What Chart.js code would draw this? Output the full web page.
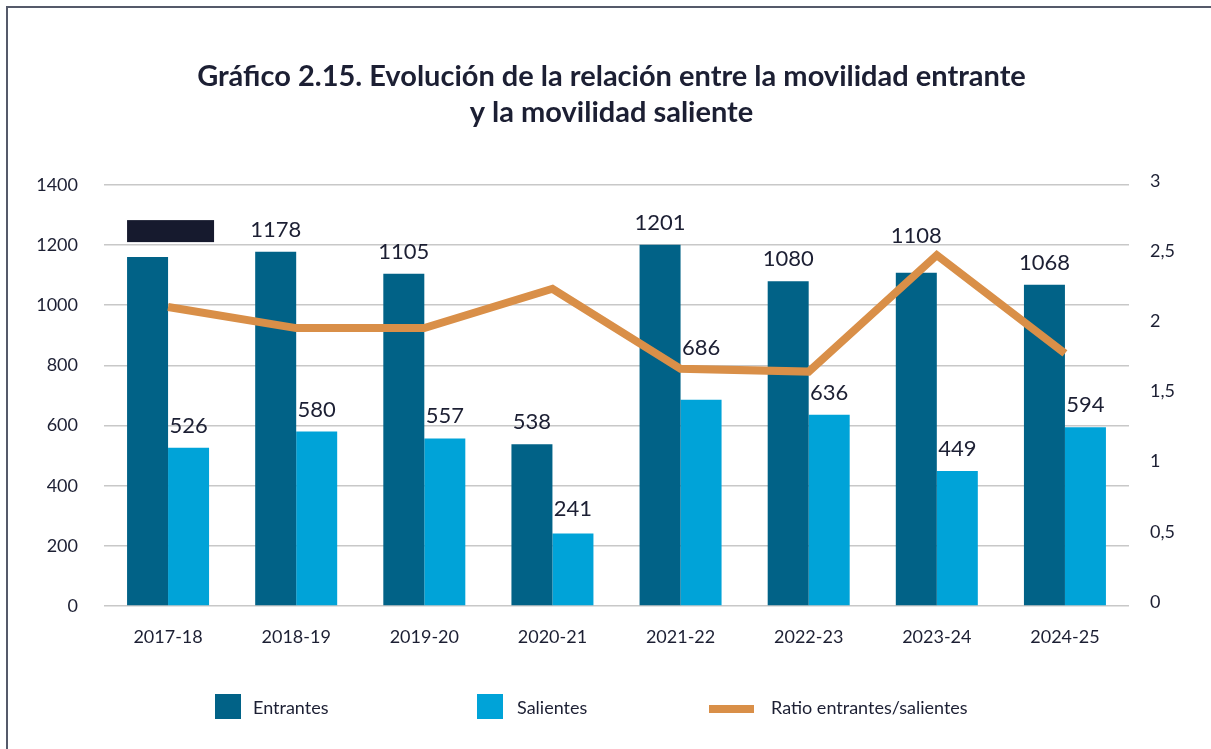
<!DOCTYPE html>
<html>
<head>
<meta charset="utf-8">
<script src="https://cdn.jsdelivr.net/npm/chart.js@4"></script>
<style>
  html, body { margin: 0; padding: 0; background: #fff; }
  #wrap { position: relative; width: 1211px; height: 749px; font-family: Lato, sans-serif; color: #1c1f33; }
  #frame { position: absolute; left: 6px; top: 6px; right: -10px; bottom: -10px; border-top: 2px solid #555a6a; border-left: 2px solid #555a6a; pointer-events: none; }
  .leg { position: absolute; top: 694px; height: 26px; line-height: 26px; font-size: 18px; white-space: nowrap; }
  .leg span.box { position: absolute; left: 0; top: 0; width: 26px; height: 25px; }
  .leg span.ln { position: absolute; left: 0; top: 11px; width: 45px; height: 8px; }
  .leg span.tx { position: absolute; top: 0; }
</style>
</head>
<body>
<div id="wrap">
  <canvas id="myChart" width="1211" height="749"></canvas>
  <div id="frame"></div>
  <div id="legend"></div>
</div>
<script>
  // Data
  var categories = ['2017-18', '2018-19', '2019-20', '2020-21', '2021-22', '2022-23', '2023-24', '2024-25'];
  var entrantes = [1160, 1178, 1105, 538, 1201, 1080, 1108, 1068];
  var salientes = [526, 580, 557, 241, 686, 636, 449, 594];
  var ratio = [2.13, 1.98, 1.98, 2.26, 1.69, 1.67, 2.50, 1.80];
  var hiddenLabels = [0]; // label of first Entrantes bar is blacked out in the original

  var textColor = '#1c1f33';

  // value labels over the bars (datasets 1 and 2 are the bars)
  var barLabels = {
    id: 'barLabels',
    afterDatasetsDraw: function(chart, args, opts) {
      var ctx = chart.ctx;
      ctx.save();
      ctx.font = '22px Lato';
      ctx.textAlign = 'center';
      ctx.textBaseline = 'alphabetic';
      [1, 2].forEach(function(di) {
        var meta = chart.getDatasetMeta(di);
        meta.data.forEach(function(bar, i) {
          var lift = (opts.lift[di + ':' + i] || 0);
          var y = bar.y - 15 - lift;
          if (di === 1 && hiddenLabels.indexOf(i) >= 0) {
            // redaction box sits over the category centre
            var cx = bar.x + bar.width / 2 + 3;
            ctx.fillStyle = '#161a2e';
            ctx.fillRect(cx - 44, y - 22, 87, 22);
            return;
          }
          ctx.fillStyle = textColor;
          ctx.fillText(chart.data.datasets[di].data[i], bar.x, y);
        });
      });
      ctx.restore();
    }
  };

  var ctx = document.getElementById('myChart').getContext('2d');
  var myChart = new Chart(ctx, {
    data: {
      labels: categories,
      datasets: [
        {
          type: 'line',
          label: 'Ratio entrantes/salientes',
          data: ratio,
          yAxisID: 'y1',
          borderColor: '#d98f48',
          backgroundColor: '#d98f48',
          borderWidth: 8,
          pointRadius: 0,
          tension: 0,
          order: 0
        },
        {
          type: 'bar',
          label: 'Entrantes',
          data: entrantes,
          backgroundColor: '#016287',
          yAxisID: 'y',
          barPercentage: 1,
          categoryPercentage: 0.64,
          order: 1
        },
        {
          type: 'bar',
          label: 'Salientes',
          data: salientes,
          backgroundColor: '#00a3d8',
          yAxisID: 'y',
          barPercentage: 1,
          categoryPercentage: 0.64,
          order: 1
        }
      ]
    },
    options: {
      responsive: false,
      animation: false,
      layout: { padding: { left: 12, right: 0, top: 0, bottom: 0 } },
      plugins: {
        legend: { display: false },
        tooltip: { enabled: false },
        // a couple of labels are nudged up to clear the ratio line, as in the original
        barLabels: { lift: { '2:4': 30, '1:6': 15, '2:3': 3 } },
        title: {
          display: true,
          text: ['Gráfico 2.15. Evolución de la relación entre la movilidad entrante', 'y la movilidad saliente'],
          color: textColor,
          font: { family: 'Lato', size: 29, weight: 'bold', lineHeight: 1.24 },
          padding: { top: 59, bottom: 54 }
        }
      },
      scales: {
        x: {
          grid: { display: false, drawTicks: false },
          border: { display: false },
          ticks: { color: textColor, font: { family: 'Lato', size: 18 }, padding: 20, maxRotation: 0 },
          afterFit: function(s) { s.height = 143; }
        },
        y: {
          position: 'left',
          min: 0, max: 1400,
          ticks: {
            stepSize: 200, color: textColor, font: { family: 'Lato', size: 18 }, padding: 26,
            callback: function(v) { return String(v); }
          },
          grid: { color: '#c8c8c8', lineWidth: 1.5, drawTicks: false },
          border: { display: false },
          afterFit: function(s) { s.width = 92; }
        },
        y1: {
          position: 'right',
          min: 0, max: 3,
          ticks: {
            stepSize: 0.5, color: textColor, font: { family: 'Lato', size: 18 }, padding: 21, labelOffset: -4,
            callback: function(v) { return String(v).replace('.', ','); }
          },
          grid: { display: false, drawTicks: false },
          border: { display: false },
          afterFit: function(s) { s.width = 82; }
        }
      }
    },
    plugins: [barLabels]
  });

  // legend built from the datasets
  var legendPos = { 'Entrantes': [215, 253], 'Salientes': [477, 517], 'Ratio entrantes/salientes': [709, 771] };
  var legendOrder = [1, 2, 0];
  var html = '';
  legendOrder.forEach(function(di) {
    var ds = myChart.data.datasets[di];
    var p = legendPos[ds.label];
    var mark = ds.type === 'line'
      ? '<span class="ln" style="background:' + ds.borderColor + '"></span>'
      : '<span class="box" style="background:' + ds.backgroundColor + '"></span>';
    html += '<div class="leg" style="left:' + p[0] + 'px">' + mark +
      '<span class="tx" style="left:' + (p[1] - p[0]) + 'px">' + ds.label + '</span></div>';
  });
  document.getElementById('legend').innerHTML = html;
</script>
</body>
</html>
